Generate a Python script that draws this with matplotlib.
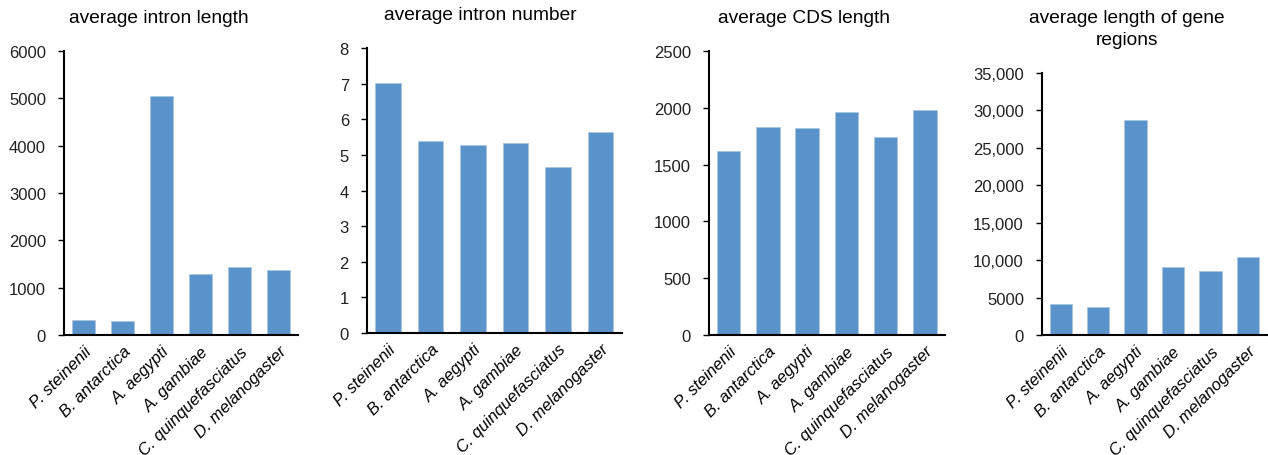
import matplotlib
matplotlib.use("Agg")
import matplotlib.pyplot as plt
from matplotlib.ticker import FuncFormatter

plt.rcParams['font.family'] = ['Liberation Sans', 'DejaVu Sans']

species = ["P. steinenii", "B. antarctica", "A. aegypti", "A. gambiae",
           "C. quinquefasciatus", "D. melanogaster"]

intron_length = [320, 290, 5040, 1290, 1430, 1380]
intron_number = [7.02, 5.38, 5.28, 5.32, 4.65, 5.65]
cds_length = [1620, 1830, 1820, 1960, 1740, 1980]
gene_length = [4150, 3800, 28700, 9100, 8550, 10450]

titles = ["average intron length", "average intron number",
          "average CDS length", "average length of gene\nregions"]
ylims = [(0, 6000), (0, 8), (0, 2500), (0, 35000)]
yticks = [range(0, 6001, 1000), range(0, 9), range(0, 2501, 500),
          range(0, 35001, 5000)]

# axes boxes [left, bottom, width, height] in figure fractions
boxes = [[0.0505, 0.263, 0.1845, 0.623],
         [0.2894, 0.2675, 0.2011, 0.625],
         [0.559, 0.263, 0.186, 0.623],
         [0.8218, 0.263, 0.1772, 0.5747]]
title_pos = [(0.125, 0.978), (0.379, 0.984), (0.634, 0.978), (0.889, 0.978)]

bar_color = "#5A93CA"


def thousands(v, pos):
    if v >= 10000:
        return "{:,.0f}".format(v)
    return "{:.0f}".format(v)


fig = plt.figure(figsize=(12.68, 4.56), dpi=100)

data = [intron_length, intron_number, cds_length, gene_length]
for i in range(4):
    ax = fig.add_axes(boxes[i])
    ax.bar(range(len(species)), data[i], width=0.6, color=bar_color,
           edgecolor="#A9C7E6", linewidth=0.6)
    ax.set_xlim(-0.5, 5.5)
    ax.set_ylim(*ylims[i])
    ax.set_yticks(list(yticks[i]))
    if i == 3:
        ax.yaxis.set_major_formatter(FuncFormatter(thousands))
    ax.set_xticks(range(len(species)))
    ax.set_xticklabels(species, rotation=45, ha="right", rotation_mode="anchor",
                       fontstyle="italic", fontsize=12)
    ax.tick_params(axis="x", length=0, pad=6)
    ax.tick_params(axis="y", length=4, width=1, labelsize=12, pad=9,
                   labelcolor="#222222")
    for s in ["top", "right"]:
        ax.spines[s].set_visible(False)
    for s in ["left", "bottom"]:
        ax.spines[s].set_linewidth(1.5)
    fig.text(title_pos[i][0], title_pos[i][1], titles[i], ha="center",
             va="top", fontsize=13.8, linespacing=1.4)

fig.savefig("out.png", dpi=100)
